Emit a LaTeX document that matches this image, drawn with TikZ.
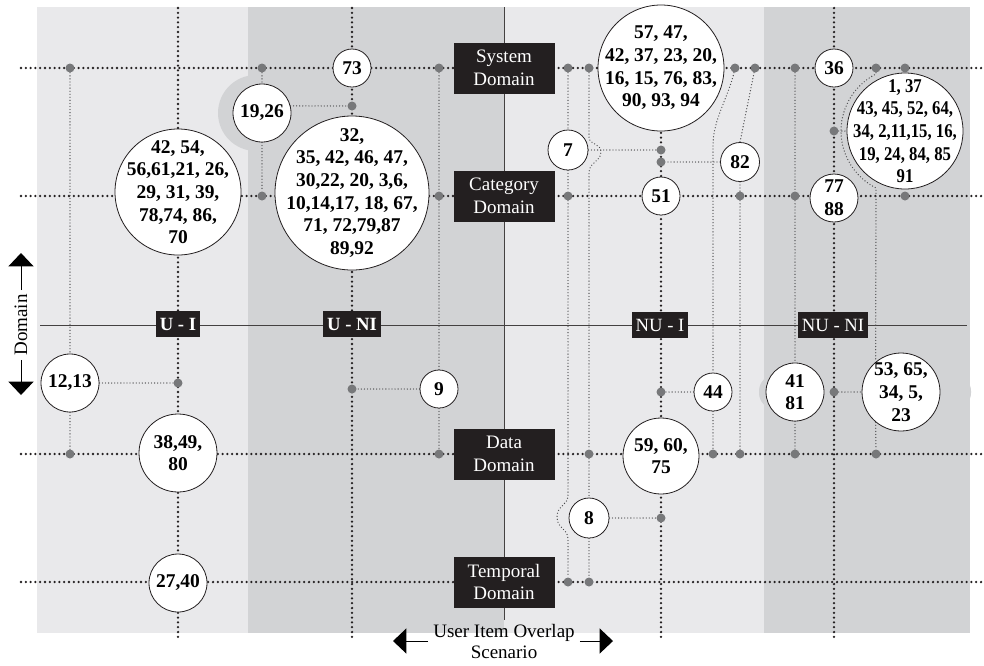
\documentclass[tikz,border=0pt]{standalone}
\usepackage{fontspec}
\setmainfont{Liberation Serif}
\newfontfamily\narrowserif[FakeStretch=0.86]{Liberation Serif}
\usetikzlibrary{arrows.meta}

\definecolor{lightreg}{HTML}{E9E9EB}
\definecolor{darkreg}{HTML}{D2D3D5}
\definecolor{dotgray}{HTML}{77787A}
\definecolor{ink}{HTML}{231F20}
\definecolor{thingray}{HTML}{4A4A4C}

\pgfdeclarelayer{back}
\pgfdeclarelayer{lines}
\pgfsetlayers{back,lines,main}

\newcommand\bubfont{\fontsize{14.6}{17}\selectfont\bfseries}
\newcommand\labfont{\fontsize{14.25}{17}\selectfont}

% group circle of a given diameter (px) with its item list centred on top
\newcommand\itemgroup[5][]{%
  \node[bub=#3] (#2) at (#4) {};
  \node[grptext, #1] (#2-t) at (#2.center) {#5};
}

\begin{document}
\begin{tikzpicture}[x=0.75pt, y=-0.75pt,
  bub/.style={circle, draw=ink, line width=0.6pt, fill=white,
    minimum size=0.75pt*#1, inner sep=0pt},
  grptext/.style={inner sep=0pt, align=center, font=\bubfont},
  gdot/.style={circle, fill=dotgray, minimum size=6.75pt, inner sep=0pt},
  dombox/.style={fill=ink, text=white, minimum width=75.75pt,
    minimum height=38.25pt, inner sep=0pt, align=center, font=\labfont},
  quadlab/.style={fill=ink, text=white, inner xsep=3pt, inner ysep=0pt,
    minimum height=19.5pt, font=\fontsize{14}{16}\selectfont},
  griddots/.style={draw=ink, line width=1.9pt, line cap=round,
    dash pattern=on 0pt off 3.6pt},
  linkdots/.style={draw=thingray, line width=1pt, line cap=round,
    dash pattern=on 0pt off 2.3pt},
  axis/.style={draw=ink!85, line width=0.75pt},
  bigtip/.style={line width=0.75pt, -{Triangle[length=10pt,width=18.75pt]}},
]
\useasboundingbox (0,0) rectangle (984,665);

% ---- quadrant backgrounds ----
\begin{pgfonlayer}{back}
  \fill[lightreg] (37,7) rectangle (248,633);
  \fill[darkreg] (248,7) rectangle (504,633);
  \fill[lightreg] (504,7) rectangle (764,633);
  \fill[darkreg] (764,7) rectangle (970,633);
  \fill[darkreg] (256,113) circle[radius=28.5pt];
  \fill[darkreg, rounded corners=12pt] (759,375) rectangle (971,409);
\end{pgfonlayer}

% ---- axes ----
\coordinate (vtop) at (504,7);
\coordinate (vbot) at (504,620);
\coordinate (hleft) at (40,325);
\coordinate (hright) at (967,325);

% ---- grid ends ----
\foreach \nm/\yy in {S/68, C/196, D/454, T/582} {
  \coordinate (row\nm w) at (21,\yy);
  \coordinate (row\nm e) at (984,\yy);
}
\foreach \nm/\xx in {a/178, b/352, c/661, d/834} {
  \coordinate (col\nm n) at (\xx,8);
  \coordinate (col\nm s) at (\xx,640);
}

% ---- domain boxes ----
\node[dombox] (sys) at (504,68) {System\\Domain};
\node[dombox] (cat) at (504,196) {Category\\Domain};
\node[dombox] (dat) at (504,454) {Data\\Domain};
\node[dombox] (tem) at (504,582) {Temporal\\Domain};

% ---- quadrant labels ----
\node[quadlab, font=\fontsize{14}{16}\selectfont\bfseries] (qUI) at (178,324) {U - I};
\node[quadlab, font=\fontsize{14}{16}\selectfont\bfseries] (qUNI) at (352,324) {U - NI};
\node[quadlab] (qNUI) at (660,325) {NU - I};
\node[quadlab] (qNUNI) at (833,325) {NU - NI};

% ---- item groups (diameter in px) ----
\itemgroup{g42}{126}{178,192}{42, 54,\\56,61,21, 26,\\29, 31, 39,\\78,74, 86,\\70}
\itemgroup{g19}{58}{262,113}{19,26}
\itemgroup{g73}{38}{352,68}{73}
\itemgroup{g32}{154}{352,193}{32,\\35, 42, 46, 47,\\30,22, 20, 3,6,\\10,14,17, 18, 67,\\71, 72,79,87\\89,92}
\itemgroup{g9}{38}{439,389}{9}
\itemgroup{g12}{58}{70,383}{12,13}
\itemgroup{g38}{78}{178,453}{38,49,\\80}
\itemgroup{g27}{58}{178,583}{27,40}
\itemgroup{g57}{126}{661,68}{57, 47,\\42, 37, 23, 20,\\16, 15, 76, 83,\\90, 93, 94}
\itemgroup{g7}{40}{568,150}{7}
\itemgroup{g82}{39}{740,162}{82}
\itemgroup{g51}{38}{661,196}{51}
\itemgroup{g36}{38}{834,68}{36}
\itemgroup[font=\fontsize{14.6}{17}\narrowserif\bfseries]{g1}{116}{905,131}
  {1, 37\\43, 45, 52, 64,\\34, 2,11,15, 16,\\19, 24, 84, 85\\91}
\itemgroup{g77}{48}{834,198}{77\\88}
\itemgroup{g44}{38}{713,392}{44}
\itemgroup{g59}{76}{661,456}{59, 60,\\75}
\itemgroup{g8}{40}{589,518}{8}
\itemgroup{g41}{58}{795,392}{41\\81}
\itemgroup{g53}{78}{901,392}{53, 65,\\34, 5,\\23}

% ---- junction dots ----
\foreach \nm/\xx/\yy in {
  dS70/70/68, dS262/262/68, dS439/439/68, dS568/568/68, dS589/589/68,
  dS735/735/68, dS755/755/68, dS795/795/68, dS876/876/68, dS905/905/68,
  dC262/262/196, dC439/439/196, dC568/568/196, dC740/740/196,
  dC795/795/196, dC905/905/196,
  dU352/352/106, dU661/661/150, dV661/661/162, dU834/834/131,
  dL178/178/383, dD70/70/454, dL352/352/389, dD439/439/454,
  dD589/589/454, dL661/661/392, dD713/713/454, dD740/740/454,
  dD795/795/454, dD876/876/454, dL834/834/392, dM661/661/518,
  dT568/568/582, dT589/589/582} {
  \node[gdot] (\nm) at (\xx,\yy) {};
}

% ---- axis labels ----
\node[rotate=90, font=\labfont, inner sep=3pt] (domlab) at (21,325) {Domain};
\coordinate (domup) at (21,253);
\coordinate (domdn) at (21,395);
\node[font=\labfont, inner xsep=3.75pt] (uio) at (504,633) {User Item Overlap};
\node[font=\labfont] (scen) at (504,652) {Scenario};
\coordinate (arrL) at (393,641);
\coordinate (arrR) at (613,641);
\draw[bigtip] (domlab.east) -- (domup);
\draw[bigtip] (domlab.west) -- (domdn);
\draw[bigtip] (uio.west |- arrL) -- (arrL);
\draw[bigtip] (uio.east |- arrR) -- (arrR);

\begin{pgfonlayer}{lines}
  % axes
  \draw[axis] (vtop) -- (vbot);
  \draw[axis] (hleft) -- (hright);
  % main grid
  \foreach \nm in {S, C, D, T} { \draw[griddots] (row\nm w) -- (row\nm e); }
  \foreach \nm in {a, b, c, d} { \draw[griddots] (col\nm n) -- (col\nm s); }
  % links on the left half
  \draw[linkdots] (dS70) -- (g12.north);
  \draw[linkdots] (g12.south) -- (dD70);
  \draw[linkdots] (g12.east) -- (dL178);
  \draw[linkdots] (dS262) -- (g19.north);
  \draw[linkdots] (g19.south) -- (dC262);
  \draw[linkdots] (g19.14) -- (dU352);
  \draw[linkdots] (dS439) -- (dC439) -- (g9.north);
  \draw[linkdots] (g9.south) -- (dD439);
  \draw[linkdots] (g9.west) -- (dL352);
  % links on the right half
  \draw[linkdots] (dS568) -- (g7.north);
  \draw[linkdots] (g7.south) -- (dC568) -- (568,495)
    .. controls (568,506) and (557,505) .. (557,517)
    .. controls (557,529) and (568,528) .. (568,539) -- (dT568);
  \draw[linkdots] (dS589) -- (589,137)
    .. controls (589,145) and (601,143) .. (601,152)
    .. controls (601,161) and (589,163) .. (589,172) -- (dD589) -- (g8.north);
  \draw[linkdots] (g8.south) -- (dT589);
  \draw[linkdots] (g8.east) -- (dM661);
  \draw[linkdots] (g7.east) -- (dU661);
  \draw[linkdots] (dS735) .. controls (729,95) and (713,120) .. (713,145) -- (g44.north);
  \draw[linkdots] (g44.south) -- (dD713);
  \draw[linkdots] (g44.west) -- (dL661);
  \draw[linkdots] (dS755) -- (g82.north);
  \draw[linkdots] (g82.south) -- (dC740) -- (dD740);
  \draw[linkdots] (g82.west) -- (dV661);
  \draw[linkdots] (dS795) -- (dC795) -- (g41.north);
  \draw[linkdots] (g41.south) -- (dD795);
  % curve skirting the left side of the large group
  \draw[linkdots] (dS876) -- (876,74)
    .. controls (854.5,85) and (841,107) .. (841,131)
    .. controls (841,155) and (854.5,177) .. (876,188) -- (g53.130);
  \draw[linkdots] (g53.230) -- (dD876);
  \draw[linkdots] (dU834) -- (g1.west);
  \draw[linkdots] (dL834) -- (g53.west);
\end{pgfonlayer}
\end{tikzpicture}
\end{document}
